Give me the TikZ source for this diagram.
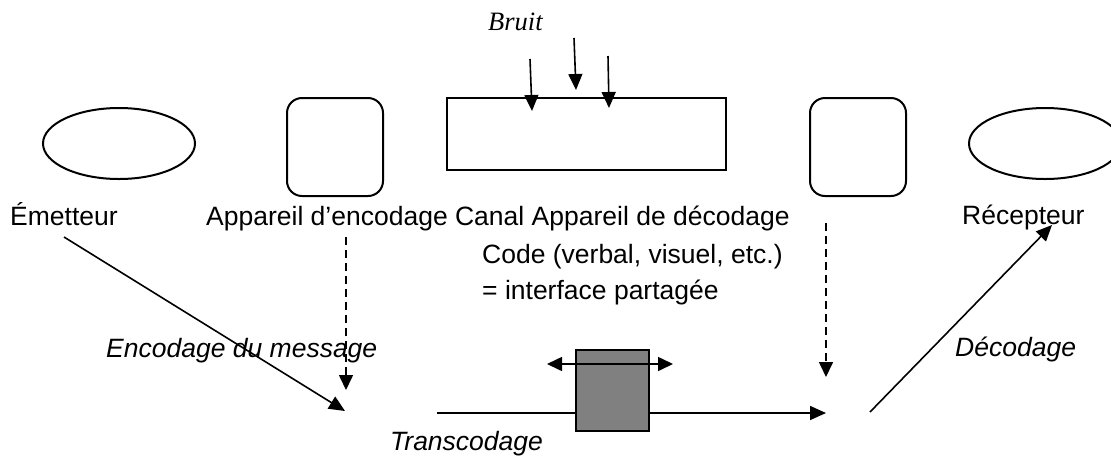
\documentclass[tikz,border=0pt]{standalone}
\usepackage{fontspec}
\setmainfont{Liberation Sans}
\newfontfamily\timesfont{Liberation Serif}
\usetikzlibrary{shapes.geometric,arrows.meta}

\tikzset{
  txt/.style={inner sep=0pt, anchor=base west, font=\fontsize{26.5pt}{32pt}\selectfont},
  itxt/.style={txt, font=\fontsize{26.5pt}{32pt}\selectfont\itshape},
  person/.style={ellipse, draw, line width=2pt, minimum width=152pt, minimum height=71pt, inner sep=0pt},
  device/.style={rectangle, draw, line width=2pt, rounded corners=15pt, minimum width=96pt, minimum height=98pt, inner sep=0pt},
  channel/.style={rectangle, draw, line width=2pt, minimum width=279pt, minimum height=72pt, inner sep=0pt},
  codebox/.style={rectangle, draw, line width=2pt, fill=black!50, minimum width=73pt, minimum height=81pt, inner sep=0pt},
  flow/.style={line width=1.6pt, -{Triangle[length=16pt,width=14pt]}},
  dflow/.style={line width=1.6pt, dash pattern=on 8pt off 5pt, -{Triangle[length=15pt,width=14pt]}},
  both/.style={line width=1.6pt, {Triangle[length=15pt,width=14pt]}-{Triangle[length=15pt,width=14pt]}},
}

\begin{document}
\begin{tikzpicture}[x=1pt, y=-1pt]
  \useasboundingbox (0,0) rectangle (1111,459);
  \clip (0,0) rectangle (1111,459);

  % shapes of the chain
  \node[person]  (emit)  at (119,143.5) {};
  \node[device]  (enc)   at (335,147) {};
  \node[channel] (canal) at (586.5,134) {};
  \node[device]  (dec)   at (858,147) {};
  \node[person]  (recv)  at (1045,143.5) {};

  % noise
  \node[inner sep=0pt, anchor=base west, font=\fontsize{26.5pt}{32pt}\selectfont\timesfont\itshape] (bruit) at (488,30) {Bruit};
  \coordinate (n1a) at (530,59);  \coordinate (n1b) at (532,111);
  \coordinate (n2a) at (574,38);  \coordinate (n2b) at (576,90);
  \coordinate (n3a) at (608,56);  \coordinate (n3b) at (609,108);
  \draw[flow] (n1a) -- (n1b);
  \draw[flow] (n2a) -- (n2b);
  \draw[flow] (n3a) -- (n3b);

  % labels
  \node[txt] (lemit) at (10,225) {Émetteur};
  \node[txt] (lrow)  at (206,225) {Appareil d’encodage Canal Appareil de décodage};
  \node[txt] (lcode) at (482,263) {Code (verbal, visuel, etc.)};
  \node[txt] (lint)  at (482,299) {= interface partagée};
  \node[txt] (lrecv) at (962,224) {Récepteur};
  \node[itxt] (lenc) at (106,357) {Encodage du message};
  \node[itxt] (ltrans) at (390,450) {Transcodage};
  \node[itxt] (ldec) at (955,356) {Décodage};

  % flow of the message
  \coordinate (a1) at (64,237);   \coordinate (a2) at (345,411);
  \coordinate (b1) at (346,237);  \coordinate (b2) at (346,390);
  \coordinate (c1) at (437,413);  \coordinate (c2) at (826,413);
  \coordinate (d1) at (826,223);  \coordinate (d2) at (826,377);
  \coordinate (f1) at (870,412);  \coordinate (f2) at (1052,225);

  \draw[flow]  (a1) -- (a2);
  \draw[dflow] (b1) -- (b2);
  \draw[flow]  (c1) -- (c2);
  \draw[dflow] (d1) -- (d2);
  \draw[flow]  (f1) -- (f2);

  % shared code
  \node[codebox] (code) at (612.5,390.5) {};
  \coordinate (g1) at (547,364);  \coordinate (g2) at (673,364);
  \draw[both] (g1) -- (g2);
\end{tikzpicture}
\end{document}
